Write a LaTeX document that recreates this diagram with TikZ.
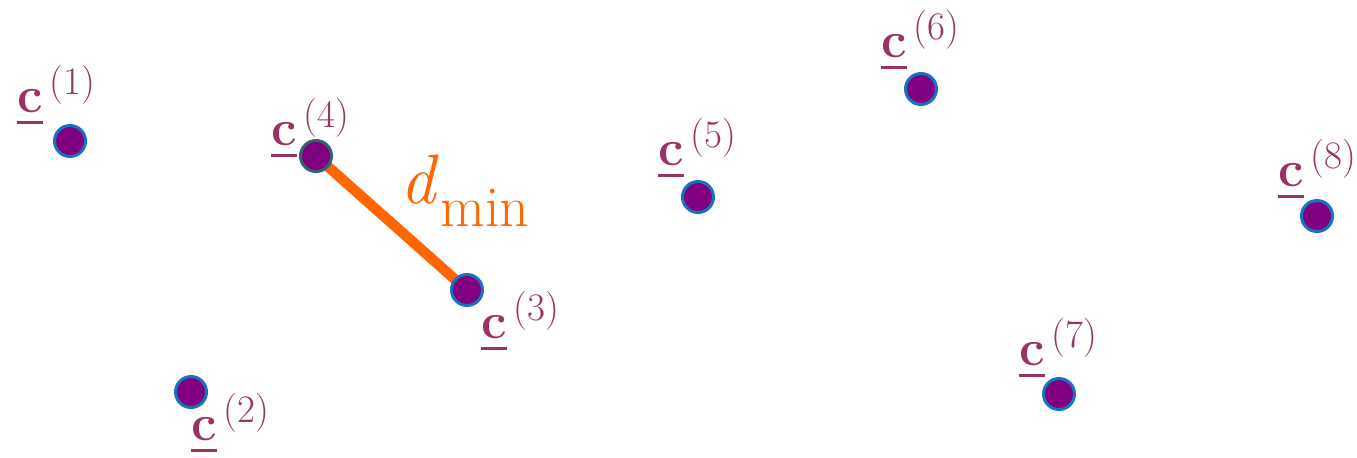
\documentclass[tikz,border=0pt]{standalone}
\definecolor{dotfill}{HTML}{800080}
\definecolor{dotline}{HTML}{1573C1}
\definecolor{dotlinedark}{HTML}{2E6470}
\definecolor{labcol}{HTML}{993366}
\definecolor{dcol}{HTML}{FF6600}
\newcommand{\ulc}{\setbox0\hbox{\textbf{c}}\rlap{\rule[-6pt]{\wd0}{1.4pt}}\box0}
\newcommand{\clab}[1]{\ulc\kern3.5pt\raisebox{8.6pt}{\fontsize{19.5}{22}\selectfont(#1)}}
\tikzset{
  dot/.style={circle, fill=dotfill, draw=dotline, line width=1.5pt, minimum size=15.5pt, inner sep=0pt},
  lab/.style={text=labcol, anchor=base west, inner sep=0pt, font=\fontsize{25.5}{30}\selectfont},
  dlab/.style={text=dcol, anchor=base west, inner sep=0pt},
  dline/.style={draw=dcol, line width=5.2pt}
}
\begin{document}
\begin{tikzpicture}[x=0.5pt,y=-0.5pt]
\useasboundingbox (0,0) rectangle (1357,457);
% dots
\coordinate (p1) at (70,141);
\coordinate (p2) at (191,392);
\coordinate (p3) at (467,290);
\coordinate (p4) at (316,156);
\coordinate (p5) at (698,197);
\coordinate (p6) at (921,89);
\coordinate (p7) at (1059,394);
\coordinate (p8) at (1317,216);
\draw[dline] (p4) -- (p3);
\node[dot] (c1) at (p1) {};
\node[dot] (c2) at (p2) {};
\node[dot] (c3) at (p3) {};
\node[dot, draw=dotlinedark] (c4) at (p4) {};
\node[dot] (c5) at (p5) {};
\node[dot] (c6) at (p6) {};
\node[dot] (c7) at (p7) {};
\node[dot] (c8) at (p8) {};
% labels
\node[lab] (l1) at (17,112) {\clab{1}};
\node[lab] (l2) at (191,440) {\clab{2}};
\node[lab] (l3) at (481,338) {\clab{3}};
\node[lab] (l4) at (271,145) {\clab{4}};
\node[lab] (l5) at (658,165) {\clab{5}};
\node[lab] (l6) at (881,57) {\clab{6}};
\node[lab] (l7) at (1019,365) {\clab{7}};
\node[lab] (l8) at (1278,186) {\clab{8}};
% d_min
\node[dlab, font=\fontsize{35}{40}\selectfont\itshape] (dd) at (400,203) {d};
\node[dlab, font=\fontsize{29}{34}\selectfont] (dmin) at (440,226) {min};
\end{tikzpicture}
\end{document}
